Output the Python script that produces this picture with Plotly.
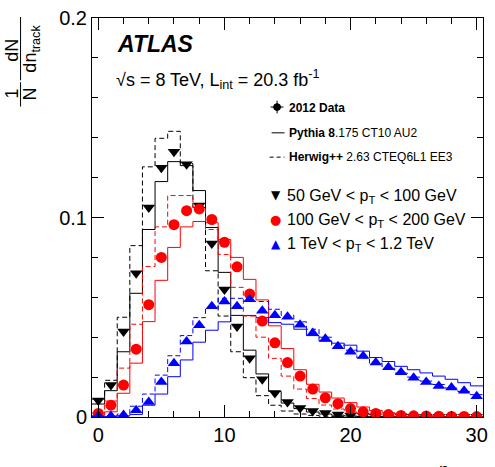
import plotly.graph_objects as go

# ---------------- data ----------------
n_track = list(range(0, 31))
bin_edges = [n - 0.5 for n in n_track] + [30.5]

data_50_100 = [0.0083, 0.016, 0.0428, 0.072, 0.105, 0.125, 0.133, 0.1267, 0.106, 0.087,
               0.0639, 0.0454, 0.0294, 0.0189, 0.012, 0.0075, 0.0045, 0.003, 0.002, 0.0012,
               0.0008, 0.0005, 0.0003, 0.0002, 0.0002, 0.0001, 0.0001, 0.0001, 0.0001, 0.0001, 0.0001]
data_100_200 = [0.0018, 0.0059, 0.016, 0.034, 0.0563, 0.080, 0.0964, 0.1034, 0.1043, 0.099,
                0.0876, 0.0753, 0.0616, 0.0481, 0.0372, 0.0273, 0.0205, 0.014, 0.0096, 0.0067,
                0.0042, 0.0026, 0.0018, 0.0012, 0.0008, 0.0006, 0.0005, 0.0004, 0.0003, 0.0003, 0.0002]
data_1000_1200 = [0.0006, 0.0005, 0.001, 0.0034, 0.0075, 0.0176, 0.027, 0.0379, 0.046, 0.0555,
                  0.0579, 0.0555, 0.059, 0.0533, 0.051, 0.0502, 0.0462, 0.0421, 0.0392, 0.0355,
                  0.0327, 0.0306, 0.0273, 0.0249, 0.0224, 0.0197, 0.0176, 0.0156, 0.0148, 0.0132, 0.0104]

pythia_50_100 = [0.0065, 0.0132, 0.0327, 0.062, 0.094, 0.118, 0.128, 0.126, 0.1135, 0.095,
                 0.0725, 0.0509, 0.0335, 0.0216, 0.0128, 0.007, 0.0042, 0.0025, 0.0015, 0.0009,
                 0.0005, 0.0003, 0.0002, 0.0002, 0.0001, 0.0001, 0.0001, 0.0001, 0.0001, 0.0001, 0.0001]
herwig_50_100 = [0.009, 0.0184, 0.050, 0.0859, 0.1254, 0.1397, 0.1432, 0.127, 0.105, 0.0733,
                 0.0506, 0.0327, 0.0197, 0.0107, 0.0059, 0.003, 0.0015, 0.0008, 0.0004, 0.0002,
                 0.0001, 0.0001, 0.0001, 0.0001, 0.0001, 0.0001, 0.0001, 0.0001, 0.0001, 0.0001, 0.0001]
pythia_100_200 = [0.0008, 0.0026, 0.0119, 0.027, 0.0478, 0.0685, 0.085, 0.0953, 0.098, 0.0974,
                  0.089, 0.080, 0.069, 0.0587, 0.0457, 0.0343, 0.0237, 0.0164, 0.0125, 0.0095,
                  0.0072, 0.005, 0.0033, 0.0022, 0.0015, 0.001, 0.0007, 0.0005, 0.0003, 0.0002, 0.0002]
herwig_100_200 = [0.002, 0.008, 0.0245, 0.0465, 0.0754, 0.0953, 0.111, 0.111, 0.105, 0.094,
                  0.0815, 0.065, 0.0506, 0.040, 0.0294, 0.0205, 0.014, 0.0093, 0.006, 0.004,
                  0.0025, 0.0016, 0.001, 0.0006, 0.0004, 0.0002, 0.0002, 0.0001, 0.0001, 0.0001, 0.0001]
pythia_1000_1200 = [0.0002, 0.0003, 0.0006, 0.0013, 0.0059, 0.0115, 0.0202, 0.0286, 0.0375, 0.0435,
                    0.0477, 0.0509, 0.0509, 0.0498, 0.0473, 0.0465, 0.044, 0.0408, 0.038, 0.037,
                    0.036, 0.033, 0.0298, 0.0278, 0.0254, 0.0237, 0.0221, 0.0205, 0.0189, 0.0172, 0.0156]
herwig_1000_1200 = [0.0003, 0.0006, 0.0015, 0.0054, 0.0115, 0.021, 0.0307, 0.0408, 0.0498, 0.0546,
                    0.0595, 0.0595, 0.058, 0.0579, 0.054, 0.051, 0.0477, 0.044, 0.040, 0.036,
                    0.0335, 0.0296, 0.027, 0.0244, 0.022, 0.020, 0.018, 0.0163, 0.0145, 0.0128, 0.0112]

x_ticks = [0, 10, 20, 30]
y_ticks = [0, 0.1, 0.2]
y_tick_labels = ["0", "0.1", "0.2"]

BLACK = "#000000"
RED = "#ff0000"
BLUE = "#0000ff"
FONT = "Liberation Sans, Arial, sans-serif"

fig = go.Figure()

def hist(vals, color, dash):
    fig.add_trace(go.Scatter(x=bin_edges, y=vals + [vals[-1]], mode="lines", line_shape="hv",
                             line=dict(color=color, width=1, dash=dash), showlegend=False,
                             hoverinfo="skip"))

for vals, color in [(pythia_50_100, BLACK), (pythia_100_200, RED), (pythia_1000_1200, BLUE)]:
    hist(vals, color, "solid")
for vals, color in [(herwig_50_100, BLACK), (herwig_100_200, RED), (herwig_1000_1200, BLUE)]:
    hist(vals, color, "5px,3px")

fig.add_trace(go.Scatter(x=n_track, y=data_50_100, mode="markers",
                         marker=dict(symbol="triangle-down", size=11, color=BLACK), showlegend=False))
fig.add_trace(go.Scatter(x=n_track, y=data_100_200, mode="markers",
                         marker=dict(symbol="circle", size=11, color=RED), showlegend=False))
fig.add_trace(go.Scatter(x=n_track, y=data_1000_1200, mode="markers",
                         marker=dict(symbol="triangle-up", size=11, color=BLUE), showlegend=False))

L, R, T, B = 92, 486, 7, 417
W, H = 495, 467
def px(x):
    return (x - L) / (R - L)
def py(y):
    return (B - y) / (B - T)

ann = []
def text(x, y, s, size, color=BLACK, xanchor="left", yanchor="middle", angle=0, family=FONT):
    ann.append(dict(x=px(x), y=py(y), xref="paper", yref="paper", text=s, showarrow=False,
                    xanchor=xanchor, yanchor=yanchor, textangle=angle,
                    font=dict(size=size, color=color, family=family)))

text(115, 34, "<b><i>ATLAS</i></b>", 23)
text(114, 70, "√s = 8 TeV, L<sub>int</sub> = 20.3 fb<sup>-1</sup>", 18)

text(288, 99, "<b>2012 Data</b>", 12)
text(288, 125, "<b>Pythia 8</b>.175 CT10 AU2", 12)
text(288, 150, "<b>Herwig++</b> 2.63 CTEQ6L1 EE3", 12)

text(286, 190, "50 GeV < p<sub>T</sub> < 100 GeV", 16)
text(286, 215, "100 GeV < p<sub>T</sub> < 200 GeV", 16)
text(286, 240, "1 TeV < p<sub>T</sub> < 1.2 TeV", 16)
text(277, 189, "▼", 12, BLACK, xanchor="center", family="DejaVu Sans")
text(277, 214, "●", 13, RED, xanchor="center", family="DejaVu Sans")
text(277, 239, "▲", 12, BLUE, xanchor="center", family="DejaVu Sans")

# y-axis title (fraction form)
text(11, 85, "1", 18, xanchor="center", angle=-90)
text(29, 85, "N", 18, xanchor="center", angle=-90)
text(11, 40, "dN", 18, xanchor="center", angle=-90)
text(31, 38, "dn<sub>track</sub>", 18, xanchor="center", angle=-90)

# x-axis title (partly below the visible window, as in the original)
text(440, 459, "n<sub>track</sub>", 18, yanchor="top")

shapes = []
def seg(x0, y0, x1, y1, dash="solid", color=BLACK, width=1):
    shapes.append(dict(type="line", xref="paper", yref="paper", x0=px(x0), y0=py(y0),
                       x1=px(x1), y1=py(y1), line=dict(color=color, width=width, dash=dash)))

seg(20, 73, 20, 98)
seg(20, 6, 20, 71)
seg(272, 98.5, 285, 98.5)
seg(278.5, 92, 278.5, 105)
shapes.append(dict(type="circle", xref="paper", yref="paper", x0=px(275), x1=px(282),
                   y0=py(95), y1=py(102), fillcolor=BLACK, line=dict(color=BLACK, width=1)))
seg(273, 125, 286, 125)
seg(271, 150, 286, 150, dash="4px,3px")

fig.update_layout(
    width=W, height=H,
    margin=dict(l=L, r=W - R, t=T, b=H - B, pad=0),
    paper_bgcolor="white", plot_bgcolor="white",
    font=dict(family=FONT, size=20, color=BLACK),
    annotations=ann, shapes=shapes,
    xaxis=dict(range=[-0.5, 30.5], tickvals=x_ticks, ticks="inside", ticklen=12, tickwidth=1,
               tickcolor=BLACK, showline=True, linecolor=BLACK, linewidth=1, mirror="allticks",
               showgrid=False, zeroline=False, tickfont=dict(size=20), ticklabeloverflow="allow",
               minor=dict(dtick=2, tick0=0, ticks="inside", ticklen=6, tickcolor=BLACK, showgrid=False)),
    yaxis=dict(range=[0, 0.2], tickvals=y_ticks, ticktext=y_tick_labels, ticks="inside", ticklen=12,
               tickwidth=1, tickcolor=BLACK, showline=True, linecolor=BLACK, linewidth=1,
               mirror="allticks", showgrid=False, zeroline=False, tickfont=dict(size=20),
               ticklabeloverflow="allow",
               minor=dict(dtick=0.02, tick0=0, ticks="inside", ticklen=6, tickcolor=BLACK, showgrid=False)),
)

fig.write_html("out.html")
